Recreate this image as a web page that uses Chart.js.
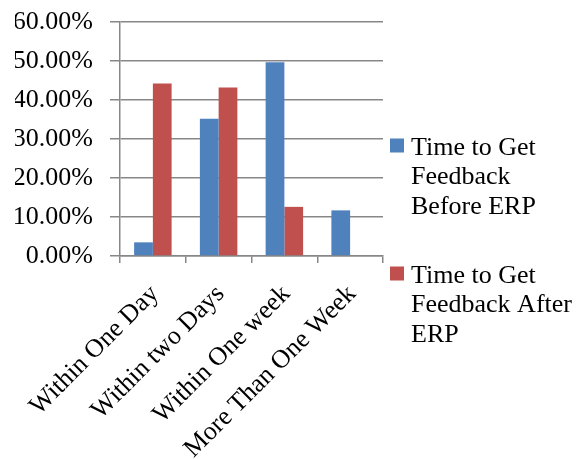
<!DOCTYPE html>
<html>
<head>
<meta charset="utf-8">
<title>Time to Get Feedback</title>
<script src="https://cdn.jsdelivr.net/npm/chart.js@4/dist/chart.umd.min.js"></script>
<style>
    body { margin: 0; background: #fff; }
    .chart-box { width: 580px; height: 459px; position: relative; }
</style>
</head>
<body>
<div class="chart-box"><canvas id="feedbackChart"></canvas></div>
<script>
// Veriler
const categories = ['Within One Day', 'Within two Days', 'Within One week', 'More Than One Week'];
const beforeErp = [3.5, 35.2, 49.7, 11.7];
const afterErp = [44.2, 43.2, 12.6, 0];
const beforeLegend = ['Time to Get', 'Feedback', 'Before ERP'];
const afterLegend = ['Time to Get', 'Feedback After', 'ERP'];
const yTickValues = [0, 10, 20, 30, 40, 50, 60];

const serif = '"Liberation Serif", "Times New Roman", serif';
const gridGray = '#878787';

// Sağdaki legend - satır satır çizilir
const sideLegend = {
    id: 'sideLegend',
    afterDraw: function(chart) {
        const ctx = chart.ctx;
        const area = chart.chartArea;
        const x = area.right + 7;
        ctx.save();
        ctx.font = '26px ' + serif;
        ctx.textBaseline = 'alphabetic';
        chart.data.datasets.forEach(function(ds, i) {
            const top = area.top + 132.5 + i * 128;
            ctx.fillStyle = ds.backgroundColor;
            ctx.fillRect(x, top - 16, 14, 14);
            ctx.fillStyle = '#000';
            ds.legendLines.forEach(function(line, j) {
                ctx.fillText(line, x + 21, top + j * 29.5);
            });
        });
        ctx.restore();
    }
};

document.addEventListener('DOMContentLoaded', function() {
    const ctx = document.getElementById('feedbackChart').getContext('2d');
    new Chart(ctx, {
        type: 'bar',
        data: {
            labels: categories,
            datasets: [{
                label: beforeLegend.join(' '),
                legendLines: beforeLegend,
                data: beforeErp,
                backgroundColor: '#4F81BD',
                categoryPercentage: 0.57,
                barPercentage: 1
            }, {
                label: afterLegend.join(' '),
                legendLines: afterLegend,
                data: afterErp,
                backgroundColor: '#C0504D',
                categoryPercentage: 0.57,
                barPercentage: 1
            }]
        },
        options: {
            responsive: true,
            maintainAspectRatio: false,
            animation: false,
            layout: {
                padding: { left: 15, right: 197, top: 22, bottom: 0 }
            },
            scales: {
                x: {
                    afterFit: function(axis) {
                        axis.height = 203;
                        axis.paddingLeft = 0;
                        axis.paddingRight = 0;
                    },
                    grid: {
                        display: true,
                        drawOnChartArea: false,
                        drawTicks: true,
                        tickLength: 7,
                        color: gridGray,
                        lineWidth: 1.5
                    },
                    border: { color: gridGray, width: 1.5 },
                    ticks: {
                        autoSkip: false,
                        minRotation: 45,
                        maxRotation: 45,
                        color: '#000',
                        padding: 16,
                        labelOffset: 2,
                        font: { family: serif, size: 26 }
                    }
                },
                y: {
                    min: 0,
                    max: 60,
                    afterBuildTicks: function(axis) {
                        axis.ticks = yTickValues.map(function(v) { return { value: v }; });
                    },
                    afterFit: function(axis) {
                        axis.width = 105;
                        axis.paddingTop = 0;
                        axis.paddingBottom = 0;
                    },
                    grid: {
                        color: gridGray,
                        lineWidth: 1.5,
                        tickLength: 10
                    },
                    border: { color: gridGray, width: 1.5 },
                    ticks: {
                        color: '#000',
                        padding: 17,
                        font: { family: serif, size: 26 },
                        callback: function(value) {
                            return value.toFixed(2) + '%';
                        }
                    }
                }
            },
            plugins: {
                legend: { display: false },
                tooltip: { enabled: false }
            }
        },
        plugins: [sideLegend]
    });
});
</script>
</body>
</html>
